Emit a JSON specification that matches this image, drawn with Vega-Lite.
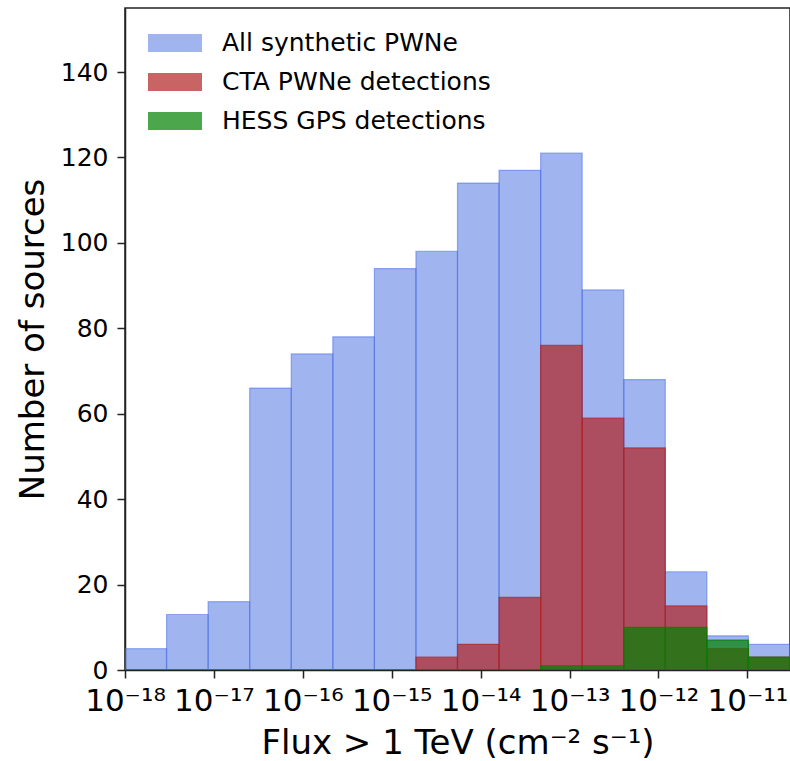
{
  "$schema": "https://vega.github.io/schema/vega-lite/v6.json",
  "autosize": {"type": "none"},
  "padding": {"left": 125, "top": 8, "right": 0, "bottom": 91},
  "width": 665,
  "height": 662,
  "config": {
    "font": "DejaVu Sans",
    "view": {"stroke": "#222", "strokeWidth": 1.5},
    "axis": {
      "grid": false,
      "domainColor": "#222",
      "domainWidth": 1.5,
      "tickColor": "#222",
      "tickWidth": 1.5,
      "tickSize": 8,
      "labelColor": "black",
      "titleColor": "black",
      "titleFontWeight": "normal",
      "labelFont": "DejaVu Sans",
      "titleFont": "DejaVu Sans",
      "zindex": 1
    }
  },
  "data": {
    "values": [
      {"series": "All synthetic PWNe", "lo": 1e-18, "hi": 2.934e-18, "n": 5},
      {"series": "All synthetic PWNe", "lo": 2.934e-18, "hi": 8.61e-18, "n": 13},
      {"series": "All synthetic PWNe", "lo": 8.61e-18, "hi": 2.527e-17, "n": 16},
      {"series": "All synthetic PWNe", "lo": 2.527e-17, "hi": 7.413e-17, "n": 66},
      {"series": "All synthetic PWNe", "lo": 7.413e-17, "hi": 2.175e-16, "n": 74},
      {"series": "All synthetic PWNe", "lo": 2.175e-16, "hi": 6.383e-16, "n": 78},
      {"series": "All synthetic PWNe", "lo": 6.383e-16, "hi": 1.873e-15, "n": 94},
      {"series": "All synthetic PWNe", "lo": 1.873e-15, "hi": 5.495e-15, "n": 98},
      {"series": "All synthetic PWNe", "lo": 5.495e-15, "hi": 1.612e-14, "n": 114},
      {"series": "All synthetic PWNe", "lo": 1.612e-14, "hi": 4.732e-14, "n": 117},
      {"series": "All synthetic PWNe", "lo": 4.732e-14, "hi": 1.388e-13, "n": 121},
      {"series": "All synthetic PWNe", "lo": 1.388e-13, "hi": 4.074e-13, "n": 89},
      {"series": "All synthetic PWNe", "lo": 4.074e-13, "hi": 1.195e-12, "n": 68},
      {"series": "All synthetic PWNe", "lo": 1.195e-12, "hi": 3.508e-12, "n": 23},
      {"series": "All synthetic PWNe", "lo": 3.508e-12, "hi": 1.029e-11, "n": 8},
      {"series": "All synthetic PWNe", "lo": 1.029e-11, "hi": 3.02e-11, "n": 6},
      {"series": "CTA PWNe detections", "lo": 1.873e-15, "hi": 5.495e-15, "n": 3},
      {"series": "CTA PWNe detections", "lo": 5.495e-15, "hi": 1.612e-14, "n": 6},
      {"series": "CTA PWNe detections", "lo": 1.612e-14, "hi": 4.732e-14, "n": 17},
      {"series": "CTA PWNe detections", "lo": 4.732e-14, "hi": 1.388e-13, "n": 76},
      {"series": "CTA PWNe detections", "lo": 1.388e-13, "hi": 4.074e-13, "n": 59},
      {"series": "CTA PWNe detections", "lo": 4.074e-13, "hi": 1.195e-12, "n": 52},
      {"series": "CTA PWNe detections", "lo": 1.195e-12, "hi": 3.508e-12, "n": 15},
      {"series": "CTA PWNe detections", "lo": 3.508e-12, "hi": 1.029e-11, "n": 5},
      {"series": "CTA PWNe detections", "lo": 1.029e-11, "hi": 3.02e-11, "n": 3},
      {"series": "HESS GPS detections", "lo": 4.732e-14, "hi": 1.388e-13, "n": 1},
      {"series": "HESS GPS detections", "lo": 1.388e-13, "hi": 4.074e-13, "n": 1},
      {"series": "HESS GPS detections", "lo": 4.074e-13, "hi": 1.195e-12, "n": 10},
      {"series": "HESS GPS detections", "lo": 1.195e-12, "hi": 3.508e-12, "n": 10},
      {"series": "HESS GPS detections", "lo": 3.508e-12, "hi": 1.029e-11, "n": 7},
      {"series": "HESS GPS detections", "lo": 1.029e-11, "hi": 3.02e-11, "n": 3}
    ]
  },
  "mark": {"type": "bar", "strokeWidth": 1.2, "clip": true},
  "encoding": {
    "x": {
      "field": "lo",
      "type": "quantitative",
      "scale": {"type": "log", "domain": [1e-18, 3.02e-11], "nice": false},
      "axis": {
        "values": [1e-18, 1e-17, 1e-16, 1e-15, 1e-14, 1e-13, 1e-12, 1e-11],
        "labelExpr": "datum.value < 5e-18 ? '10⁻¹⁸' : datum.value < 5e-17 ? '10⁻¹⁷' : datum.value < 5e-16 ? '10⁻¹⁶' : datum.value < 5e-15 ? '10⁻¹⁵' : datum.value < 5e-14 ? '10⁻¹⁴' : datum.value < 5e-13 ? '10⁻¹³' : datum.value < 5e-12 ? '10⁻¹²' : '10⁻¹¹'",
        "labelFontSize": 31,
        "labelPadding": 8,
        "labelFlush": false,
        "labelOverlap": false,
        "title": "Flux > 1 TeV (cm⁻² s⁻¹)",
        "titleFontSize": 34,
        "titlePadding": 10
      }
    },
    "x2": {"field": "hi"},
    "y": {
      "field": "n",
      "type": "quantitative",
      "stack": null,
      "scale": {"domain": [0, 155], "nice": false},
      "axis": {
        "values": [0, 20, 40, 60, 80, 100, 120, 140],
        "labelFontSize": 25,
        "labelPadding": 9,
        "title": "Number of sources",
        "titleFontSize": 34,
        "titlePadding": 10
      }
    },
    "y2": {"datum": 0},
    "color": {
      "field": "series",
      "type": "nominal",
      "scale": {
        "domain": ["All synthetic PWNe", "CTA PWNe detections", "HESS GPS detections"],
        "range": ["rgba(65,105,225,0.5)", "rgba(178,34,34,0.7)", "rgba(0,128,0,0.7)"]
      },
      "legend": {
        "orient": "none",
        "legendX": 32,
        "legendY": 17,
        "padding": 0,
        "title": null,
        "symbolType": "M-1.5,-0.5H1.5V0.5H-1.5Z",
        "symbolSize": 1296,
        "symbolStrokeWidth": 0,
        "labelFontSize": 25,
        "labelOffset": 29,
        "labelColor": "black",
        "labelLimit": 0,
        "rowPadding": 8
      }
    },
    "stroke": {
      "field": "series",
      "type": "nominal",
      "scale": {
        "domain": ["All synthetic PWNe", "CTA PWNe detections", "HESS GPS detections"],
        "range": ["rgba(65,105,225,0.5)", "rgba(178,34,34,0.7)", "rgba(0,128,0,0.7)"]
      },
      "legend": null
    }
  }
}
